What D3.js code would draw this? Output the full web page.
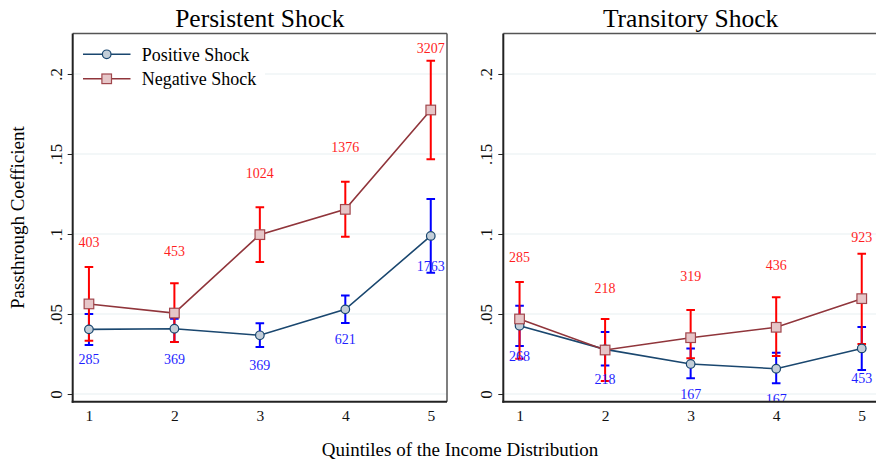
<!DOCTYPE html>
<html>
<head>
<meta charset="utf-8">
<script src="https://cdn.jsdelivr.net/npm/d3@7"></script>
<style>
	body { margin: 0; background: #fff; }
	text { font-family: "Liberation Serif", "Times New Roman", serif; }
</style>
</head>
<body>
<div id="content"></div>
<script>
// data
var quintiles = [1, 2, 3, 4, 5];
var yTicks = [0, 0.05, 0.1, 0.15, 0.2];
var yTickLabels = ["0", ".05", ".1", ".15", ".2"];

var persistPos   = [0.0404, 0.0408, 0.0367, 0.0529, 0.0988];
var persistPosLo = [0.0306, 0.0325, 0.0294, 0.0444, 0.0758];
var persistPosHi = [0.0500, 0.0470, 0.0442, 0.0615, 0.1219];
var persistNeg   = [0.0563, 0.0506, 0.0996, 0.1154, 0.1775];
var persistNegLo = [0.0333, 0.0325, 0.0825, 0.0983, 0.1467];
var persistNegHi = [0.0794, 0.0692, 0.1167, 0.1327, 0.2083];
var persistPosN  = [285, 369, 369, 621, 1763];
var persistNegN  = [403, 453, 1024, 1376, 3207];

var transPos   = [0.0427, 0.0279, 0.0188, 0.0158, 0.0285];
var transPosLo = [0.0300, 0.0179, 0.0098, 0.0067, 0.0150];
var transPosHi = [0.0552, 0.0388, 0.0285, 0.0258, 0.0419];
var transNeg   = [0.0469, 0.0275, 0.0352, 0.0417, 0.0596];
var transNegLo = [0.0220, 0.0081, 0.0223, 0.0237, 0.0313];
var transNegHi = [0.0700, 0.0469, 0.0525, 0.0604, 0.0877];
var transPosN  = [268, 218, 167, 167, 453];
var transNegN  = [285, 218, 319, 436, 923];

var seriesNames = ["Positive Shock", "Negative Shock"];
var panelTitles = ["Persistent Shock", "Transitory Shock"];

var W = 876, H = 461;
var top_ = 33.5, bottom_ = 401.7;
var serif = "Liberation Serif, Times New Roman, serif";
var lineColor = ["#1a476f", "#90353b"];
var markFill = ["#c3ced8", "#e6c6c8"];
var ciColor = ["#0000ff", "#ff0000"];
var numColor = ["#1f1fff", "#ff1f1f"];

var svg = d3.select("#content").append("svg")
	.attr("width", W)
	.attr("height", H);

var y = d3.scaleLinear().domain([-0.0048, 0.2253]).range([bottom_, top_]);

function marker(g, type, cx, cy){
	if (type == 0)
		g.append("circle")
			.attr("cx", cx).attr("cy", cy).attr("r", 4.3)
			.attr("fill", markFill[0]).attr("stroke", lineColor[0]).attr("stroke-width", 1.2);
	else
		g.append("rect")
			.attr("x", cx - 4.8).attr("y", cy - 4.8).attr("width", 9.6).attr("height", 9.6)
			.attr("fill", markFill[1]).attr("stroke", "#a0474d").attr("stroke-width", 1.2);
}

function draw_panel(idx, left, right, pos, posLo, posHi, neg, negLo, negHi, posN, negN){
	var x = d3.scaleLinear().domain([0.81, 5.19]).range([left, right]);
	var g = svg.append("g");

	// grid
	g.selectAll(".grid").data(yTicks).enter().append("line")
		.attr("x1", left).attr("x2", right)
		.attr("y1", function(d){ return y(d); })
		.attr("y2", function(d){ return y(d); })
		.attr("stroke", "#e8f0f2").attr("stroke-width", 1.2);

	// title
	g.append("text")
		.attr("x", (left + right) / 2)
		.attr("y", 27)
		.attr("text-anchor", "middle")
		.style("font-size", "25.5px")
		.text(panelTitles[idx]);

	var clipId = "clip" + idx;
	svg.append("clipPath").attr("id", clipId)
		.append("rect").attr("x", left).attr("y", top_).attr("width", right - left).attr("height", bottom_ - top_);
	var p = g.append("g").attr("clip-path", "url(#" + clipId + ")");

	var sets = [[pos, posLo, posHi, posN], [neg, negLo, negHi, negN]];

	// confidence intervals
	for (var s = 0; s < 2; s++){
		for (var i = 0; i < quintiles.length; i++){
			var cx = x(quintiles[i]);
			var lo = y(sets[s][1][i]), hi = y(sets[s][2][i]);
			p.append("line").attr("x1", cx).attr("x2", cx).attr("y1", lo).attr("y2", hi)
				.attr("stroke", ciColor[s]).attr("stroke-width", 2);
			p.append("line").attr("x1", cx - 4.3).attr("x2", cx + 4.3).attr("y1", lo).attr("y2", lo)
				.attr("stroke", ciColor[s]).attr("stroke-width", 2);
			p.append("line").attr("x1", cx - 4.3).attr("x2", cx + 4.3).attr("y1", hi).attr("y2", hi)
				.attr("stroke", ciColor[s]).attr("stroke-width", 2);
		}
	}

	// connected lines
	for (var s = 0; s < 2; s++){
		var line = d3.line()
			.x(function(d, i){ return x(quintiles[i]); })
			.y(function(d){ return y(d); });
		p.append("path").datum(sets[s][0])
			.attr("d", line)
			.attr("fill", "none")
			.attr("stroke", lineColor[s])
			.attr("stroke-width", 1.6);
	}

	// markers
	for (var s = 0; s < 2; s++)
		for (var i = 0; i < quintiles.length; i++)
			marker(p, s, x(quintiles[i]), y(sets[s][0][i]));

	// counts
	for (var s = 0; s < 2; s++){
		for (var i = 0; i < quintiles.length; i++){
			p.append("text")
				.attr("x", x(quintiles[i]))
				.attr("y", y(sets[s][0][i]) + (s == 0 ? 35 : -57))
				.attr("text-anchor", "middle")
				.style("font-size", "14px")
				.attr("fill", numColor[s])
				.text(sets[s][3][i]);
		}
	}

	// frame
	g.append("line").attr("x1", left).attr("x2", right).attr("y1", top_).attr("y2", top_)
		.attr("stroke", "#555").attr("stroke-width", 1.5);
	g.append("line").attr("x1", right).attr("x2", right).attr("y1", top_).attr("y2", bottom_)
		.attr("stroke", "#555").attr("stroke-width", 1.5);

	// y axis
	var yAxis = d3.axisLeft(y).tickValues(yTicks).tickSize(5)
		.tickFormat(function(d, i){ return yTickLabels[i]; });
	var ya = g.append("g").attr("transform", "translate(" + left + ",0)").call(yAxis)
		.attr("font-family", serif).attr("font-size", 17);
	ya.select(".domain").attr("stroke", "#222").attr("stroke-width", 2)
		.attr("d", "M0," + top_ + "V" + (bottom_ + 1));
	ya.selectAll(".tick line").attr("stroke", "#222").attr("stroke-width", 1);
	ya.selectAll(".tick text")
		.style("font-family", serif)
		.style("font-size", "17px")
		.attr("fill", "#111")
		.attr("x", null).attr("dy", null)
		.attr("text-anchor", "middle")
		.attr("transform", "translate(-11,0) rotate(-90)");

	// x axis
	var xAxis = d3.axisBottom(x).tickValues(quintiles).tickSize(0).tickPadding(0)
		.tickFormat(d3.format("d"));
	var xa = g.append("g").attr("transform", "translate(0," + bottom_ + ")").call(xAxis)
		.attr("font-family", serif).attr("font-size", 15);
	xa.select(".domain").attr("stroke", "#222").attr("stroke-width", 2)
		.attr("d", "M" + (left - 1) + ",0H" + right);
	xa.selectAll(".tick text")
		.style("font-family", serif)
		.style("font-size", "15.5px")
		.attr("fill", "#111")
		.attr("dy", null)
		.attr("y", 19.5);

	return g;
}

draw_panel(0, 72.7, 447, persistPos, persistPosLo, persistPosHi, persistNeg, persistNegLo, persistNegHi, persistPosN, persistNegN);
draw_panel(1, 503.3, 878, transPos, transPosLo, transPosHi, transNeg, transNegLo, transNegHi, transPosN, transNegN);

/* legend */
var leg = svg.append("g");
leg.append("rect").attr("x", 81).attr("y", 38).attr("width", 184).attr("height", 57).attr("fill", "#fff");
for (var s = 0; s < 2; s++){
	var ly = 54.3 + s * 24.5;
	leg.append("line").attr("x1", 83).attr("x2", 130.5).attr("y1", ly).attr("y2", ly)
		.attr("stroke", lineColor[s]).attr("stroke-width", 1.6);
	marker(leg, s, 106.7, ly);
	leg.append("text").attr("x", 141.7).attr("y", ly + 6.5)
		.style("font-size", "18px")
		.text(seriesNames[s]);
}

/* axis titles */
svg.append("text")
	.attr("transform", "translate(24,217.6) rotate(-90)")
	.attr("text-anchor", "middle")
	.style("font-size", "19px")
	.text("Passthrough Coefficient");

svg.append("text")
	.attr("x", 460)
	.attr("y", 455.5)
	.attr("text-anchor", "middle")
	.style("font-size", "19px")
	.text("Quintiles of the Income Distribution");
</script>
</body>
</html>
